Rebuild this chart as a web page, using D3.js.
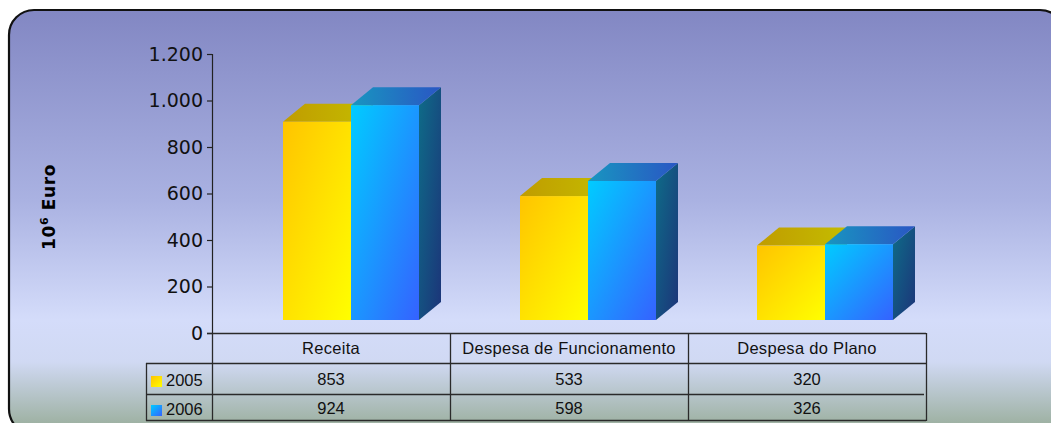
<!DOCTYPE html>
<html>
<head>
<meta charset="utf-8">
<script src="https://cdn.jsdelivr.net/npm/d3@7/dist/d3.min.js"></script>
<style>
  html, body { margin: 0; padding: 0; background: #ffffff; }
  svg { display: block; }
  .tick text { font-family: "DejaVu Sans", Verdana, sans-serif; font-size: 19px; fill: #111; }
  .tbl { font-family: "Liberation Sans", Arial, sans-serif; font-size: 16.5px; fill: #111; }
</style>
</head>
<body>
<svg id="chart" width="1051" height="423"></svg>
<script>
// data
var categories = ["Receita", "Despesa de Funcionamento", "Despesa do Plano"];
var years = ["2005", "2006"];
var values2005 = [853, 533, 320];
var values2006 = [924, 598, 326];
var yTicks = [0, 200, 400, 600, 800, 1000, 1200];

var series = [values2005, values2006];

var svg = d3.select("#chart");
var defs = svg.append("defs");

function grad(id, x2, y2, stops) {
  var g = defs.append("linearGradient").attr("id", id)
    .attr("x1", 0).attr("y1", 0).attr("x2", x2).attr("y2", y2);
  stops.forEach(function(s) {
    g.append("stop").attr("offset", s[0]).attr("stop-color", s[1]);
  });
}

// background of the frame
grad("bg", 0, 1, [["0%", "#8287c3"], ["45%", "#aab2e2"], ["73%", "#d4dcfa"], ["83%", "#d0d9f3"], ["100%", "#96ab96"]]);
// bar faces
grad("yFront", 1, 1, [["0%", "#ffc400"], ["100%", "#ffff00"]]);
grad("yTop", 1, 0, [["0%", "#c09c00"], ["100%", "#c4bc00"]]);
grad("yShade", 1, 1, [["0%", "#a08000"], ["100%", "#807000"]]);
grad("bFront", 1, 1, [["0%", "#00ccff"], ["100%", "#3562ff"]]);
grad("bTop", 1, 0, [["0%", "#1896c0"], ["100%", "#2a56c4"]]);
grad("bSide", 1, 1, [["0%", "#0e6c88"], ["100%", "#1c3479"]]);

var faces = [
  { front: "url(#yFront)", top: "url(#yTop)", side: "url(#yShade)" },
  { front: "url(#bFront)", top: "url(#bTop)", side: "url(#bSide)" }
];

// rounded frame
svg.append("rect")
  .attr("x", 9).attr("y", 10)
  .attr("width", 1056).attr("height", 424)
  .attr("rx", 25).attr("ry", 25)
  .style("fill", "url(#bg)")
  .style("stroke", "#111")
  .style("stroke-width", 2.2);

// scales
var y = d3.scaleLinear().domain([0, 1200]).range([333, 54]);
var x = d3.scaleBand().domain(categories).range([212, 926]).padding(0);
var xBar = d3.scalePoint().domain(categories).range([351, 825]);
var barW = 68;
var depthX = 22, depthY = 18, floor = 13;

var locale = d3.formatLocale({ decimal: ",", thousands: ".", grouping: [3], currency: ["", "€"] });
var fmt = locale.format(",d");

// bars (painter's order: series 2005 first, then 2006)
var bars = [];
categories.forEach(function(c, ci) {
  series.forEach(function(vals, si) {
    bars.push({ cat: c, s: si, v: vals[ci] });
  });
});

var g = svg.append("g");
bars.forEach(function(d) {
  var x0 = xBar(d.cat) - barW + d.s * barW;
  var x1 = x0 + barW;
  var yb = y(0) - floor;
  var yt = y(d.v) - floor;
  var f = faces[d.s];
  // side
  g.append("path")
    .attr("d", "M" + x1 + "," + yt + "L" + (x1 + depthX) + "," + (yt - depthY) +
      "L" + (x1 + depthX) + "," + (yb - depthY) + "L" + x1 + "," + yb + "Z")
    .style("fill", f.side);
  // top
  g.append("path")
    .attr("d", "M" + x0 + "," + yt + "L" + (x0 + depthX) + "," + (yt - depthY) +
      "L" + (x1 + depthX) + "," + (yt - depthY) + "L" + x1 + "," + yt + "Z")
    .style("fill", f.top);
  // front
  g.append("rect")
    .attr("x", x0).attr("y", yt)
    .attr("width", barW).attr("height", yb - yt)
    .style("fill", f.front);
});

// y axis
var axis = svg.append("g")
  .attr("transform", "translate(212,0)")
  .call(d3.axisLeft(y).tickValues(yTicks).tickFormat(fmt).tickSize(5).tickSizeOuter(5).tickPadding(4));
axis.selectAll("path, line").style("stroke", "#222").style("stroke-width", 1.2);
axis.select(".domain").attr("d", "M-5,54.5H0.5V333.5H-5");

// axis title
svg.append("text")
  .attr("transform", "translate(55,207) rotate(-90)")
  .attr("text-anchor", "middle")
  .style("font-family", "'DejaVu Sans', sans-serif")
  .style("font-weight", "bold")
  .style("font-size", "17px")
  .style("letter-spacing", "0.6px")
  .style("fill", "#000")
  .text("10")
  .append("tspan").attr("dy", -7).style("font-size", "11px").text("6")
  .append("tspan").attr("dy", 7).style("font-size", "17px").text(" Euro");

// data table
var rowBot = 420;
var lines = svg.append("g").style("stroke", "#2a2a2a").style("stroke-width", 1.3);
lines.append("line").attr("x1", 207).attr("x2", 926).attr("y1", 333.5).attr("y2", 333.5);
lines.append("line").attr("x1", 146).attr("x2", 926).attr("y1", 363.5).attr("y2", 363.5);
lines.append("line").attr("x1", 146).attr("x2", 924).attr("y1", 394.5).attr("y2", 394.5);
lines.append("line").attr("x1", 146).attr("x2", 926).attr("y1", rowBot + 0.5).attr("y2", rowBot + 0.5);
lines.append("line").attr("x1", 146.5).attr("x2", 146.5).attr("y1", 363).attr("y2", rowBot + 1);
lines.append("line").attr("x1", 212.5).attr("x2", 212.5).attr("y1", 333).attr("y2", rowBot + 1);
categories.forEach(function(c) {
  var xe = x(c) + x.bandwidth();
  lines.append("line").attr("x1", xe + 0.5).attr("x2", xe + 0.5).attr("y1", 333).attr("y2", rowBot + 1);
});

// header labels
svg.selectAll("text.hdr").data(categories).enter().append("text")
  .attr("class", "tbl hdr")
  .attr("x", function(d) { return x(d) + x.bandwidth() / 2; })
  .attr("y", 354)
  .attr("text-anchor", "middle")
  .style("letter-spacing", "0.3px")
  .text(function(d) { return d; });

// values
var rowBase = [385, 414];
series.forEach(function(vals, si) {
  svg.selectAll("text.v" + si).data(vals).enter().append("text")
    .attr("class", "tbl v" + si)
    .attr("x", function(d, i) { return x(categories[i]) + x.bandwidth() / 2; })
    .attr("y", rowBase[si])
    .attr("text-anchor", "middle")
    .text(function(d) { return d; });
});

// legend keys
years.forEach(function(yr, si) {
  svg.append("rect")
    .attr("x", 151).attr("y", rowBase[si] - 9)
    .attr("width", 11).attr("height", 11)
    .style("fill", faces[si].front);
  svg.append("text")
    .attr("class", "tbl")
    .attr("x", 166).attr("y", rowBase[si] + 1)
    .text(yr);
});
</script>
</body>
</html>
